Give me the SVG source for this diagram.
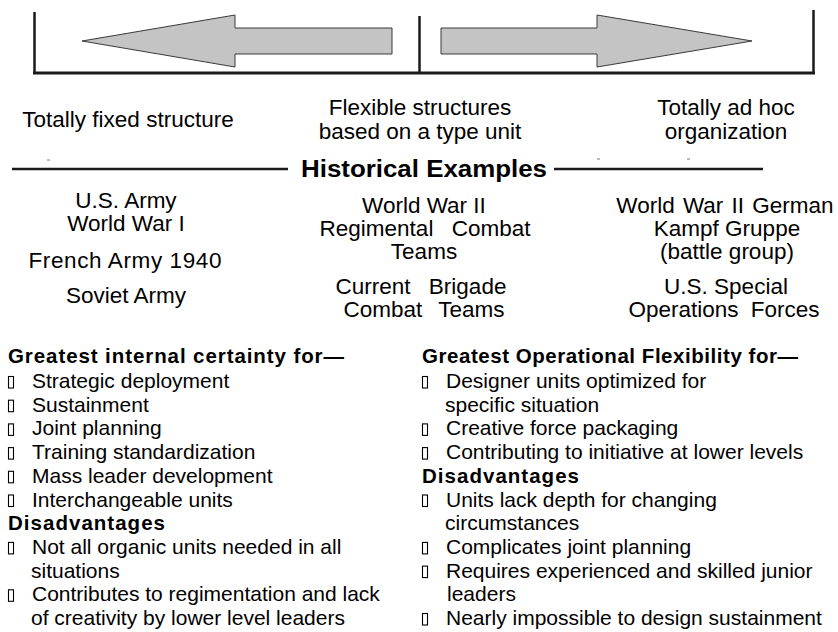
<svg xmlns="http://www.w3.org/2000/svg" xmlns:xlink="http://www.w3.org/1999/xlink" width="838" height="632" viewBox="0 0 838 632">
<defs>
<style>
text{font-family:"Liberation Sans",Arial,Helvetica,sans-serif;fill:#000}
.hd{font-size:22.5px;text-anchor:middle}
.col{font-size:22.5px;text-anchor:middle}
.body{font-size:21px}
.bold{font-size:20.5px;font-weight:bold}
.hist{font-size:23.5px;font-weight:bold}
.frame{stroke:#1a1a1a;fill:none}
.arrow{fill:#c4c4c4;stroke:#3a3a3a;stroke-width:1}
.rule{stroke:#1a1a1a;stroke-width:2.5}
.tick{stroke:#777;stroke-width:1}
</style>
<rect id="b" x="0" y="-11.5" width="5" height="11.5" fill="none" stroke="#000" stroke-width="1.1"/>
</defs>
<rect width="838" height="632" fill="#fff"/>

<g id="scale">
<line class="frame" x1="34.5" y1="12" x2="34.5" y2="74" stroke-width="2.5"/>
<line class="frame" x1="813.5" y1="10" x2="813.5" y2="74" stroke-width="2.5"/>
<line class="frame" x1="419.5" y1="16" x2="419.5" y2="73" stroke-width="2.5"/>
<line class="frame" x1="33" y1="73" x2="815" y2="73" stroke-width="3"/>
<polygon class="arrow" points="82,41 235,15 235,28 392,28 392,54 235,54 235,67"/>
<polygon class="arrow" points="441,28 597,28 597,15 752,41 597,67 597,54 441,54"/>
</g>

<g id="labels">
<text class="hd" x="128" y="127">Totally fixed structure</text>
<text class="hd" x="420" y="115">Flexible structures</text>
<text class="hd" x="420" y="139">based on a type unit</text>
<text class="hd" x="726" y="115">Totally ad hoc</text>
<text class="hd" x="726" y="139">organization</text>
</g>

<g id="historical">
<line class="rule" x1="12" y1="169" x2="288" y2="169"/>
<line class="rule" x1="554" y1="169" x2="763" y2="169"/>
<line class="tick" x1="47" y1="160" x2="50" y2="160"/>
<line class="tick" x1="597" y1="159" x2="600" y2="159"/>
<line class="tick" x1="687" y1="159" x2="690" y2="159"/>
<text class="hist" x="301" y="177" textLength="246" lengthAdjust="spacingAndGlyphs">Historical Examples</text>
</g>

<g id="col-left">
<text class="col" x="126" y="208">U.S. Army</text>
<text class="col" x="126" y="231">World War I</text>
<text class="col" x="125" y="268" textLength="193" lengthAdjust="spacing">French Army 1940</text>
<text class="col" x="126" y="303">Soviet Army</text>
</g>
<g id="col-mid">
<text class="col" x="424" y="213">World War II</text>
<text class="col" x="425" y="236" word-spacing="12">Regimental Combat</text>
<text class="col" x="424" y="259">Teams</text>
<text class="col" x="421" y="294" word-spacing="12">Current Brigade</text>
<text class="col" x="424" y="317" word-spacing="10">Combat Teams</text>
</g>
<g id="col-right">
<text class="col" x="725" y="213" word-spacing="2">World War II German</text>
<text class="col" x="727" y="236">Kampf Gruppe</text>
<text class="col" x="727" y="259">(battle group)</text>
<text class="col" x="726" y="294">U.S. Special</text>
<text class="col" x="724" y="317" word-spacing="6">Operations Forces</text>
</g>

<g id="list-left">
<text class="bold" x="8" y="363" textLength="336" lengthAdjust="spacing">Greatest internal certainty for—</text>
<use xlink:href="#b" x="8.5" y="388"/><text class="body" x="32" y="388">Strategic deployment</text>
<use xlink:href="#b" x="8.5" y="411.7"/><text class="body" x="32" y="411.7">Sustainment</text>
<use xlink:href="#b" x="8.5" y="435.4"/><text class="body" x="32" y="435.4">Joint planning</text>
<use xlink:href="#b" x="8.5" y="459.1"/><text class="body" x="32" y="459.1">Training standardization</text>
<use xlink:href="#b" x="8.5" y="482.8"/><text class="body" x="32" y="482.8">Mass leader development</text>
<use xlink:href="#b" x="8.5" y="506.5"/><text class="body" x="32" y="506.5">Interchangeable units</text>
<text class="bold" x="8" y="530.2" textLength="157" lengthAdjust="spacing">Disadvantages</text>
<use xlink:href="#b" x="8.5" y="553.9"/><text class="body" x="32" y="553.9">Not all organic units needed in all</text>
<text class="body" x="31" y="577.6">situations</text>
<use xlink:href="#b" x="8.5" y="601.3"/><text class="body" x="32" y="601.3">Contributes to regimentation and lack</text>
<text class="body" x="31" y="625">of creativity by lower level leaders</text>
</g>

<g id="list-right">
<text class="bold" x="422" y="363" textLength="376" lengthAdjust="spacing">Greatest Operational Flexibility for—</text>
<use xlink:href="#b" x="422.5" y="388"/><text class="body" x="446" y="388">Designer units optimized for</text>
<text class="body" x="445" y="411.7">specific situation</text>
<use xlink:href="#b" x="422.5" y="435.4"/><text class="body" x="446" y="435.4">Creative force packaging</text>
<use xlink:href="#b" x="422.5" y="459.1"/><text class="body" x="446" y="459.1">Contributing to initiative at lower levels</text>
<text class="bold" x="422" y="482.8" textLength="157" lengthAdjust="spacing">Disadvantages</text>
<use xlink:href="#b" x="422.5" y="506.5"/><text class="body" x="446" y="506.5">Units lack depth for changing</text>
<text class="body" x="445" y="530.2">circumstances</text>
<use xlink:href="#b" x="422.5" y="553.9"/><text class="body" x="446" y="553.9">Complicates joint planning</text>
<use xlink:href="#b" x="422.5" y="577.6"/><text class="body" x="446" y="577.6">Requires experienced and skilled junior</text>
<text class="body" x="447" y="601.3">leaders</text>
<use xlink:href="#b" x="422.5" y="625"/><text class="body" x="446" y="625">Nearly impossible to design sustainment</text>
</g>
</svg>
